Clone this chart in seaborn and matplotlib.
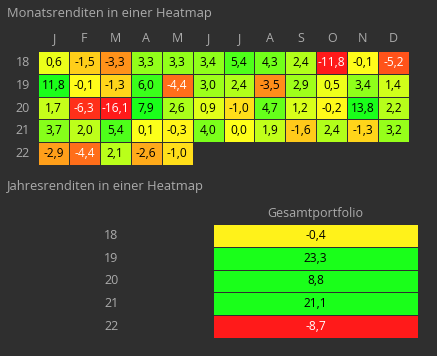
import numpy as np
import pandas as pd
import matplotlib
matplotlib.use("Agg")
import matplotlib.pyplot as plt
import seaborn as sns
from matplotlib.colors import LinearSegmentedColormap

months = ["J", "F", "M", "A", "M", "J", "J", "A", "S", "O", "N", "D"]
years = ["18", "19", "20", "21", "22"]
r18 = [0.6, -1.5, -3.3, 3.3, 3.3, 3.4, 5.4, 4.3, 2.4, -11.8, -0.1, -5.2]
r19 = [11.8, -0.1, -1.3, 6.0, -4.4, 3.0, 2.4, -3.5, 2.9, 0.5, 3.4, 1.4]
r20 = [1.7, -6.3, -16.1, 7.9, 2.6, 0.9, -1.0, 4.7, 1.2, -0.2, 13.8, 2.2]
r21 = [3.7, 2.0, 5.4, 0.1, -0.3, 4.0, 0.0, 1.9, -1.6, 2.4, -1.3, 3.2]
r22 = [-2.9, -4.4, 2.1, -2.6, -1.0, np.nan, np.nan, np.nan, np.nan, np.nan, np.nan, np.nan]
annual = [-0.4, 23.3, 8.8, 21.1, -8.7]
annual_label = "Gesamtportfolio"

BG = "#2f2f2f"
TXT = "#ababab"
cmap = LinearSegmentedColormap.from_list("ryg", ["#ff1a1a", "#ffff1a", "#1aff1a"])

plt.rcParams["font.family"] = ["Open Sans", "DejaVu Sans"]

monthly = pd.DataFrame([r18, r19, r20, r21, r22], index=years, columns=range(12))
yearly = pd.DataFrame({annual_label: annual}, index=years)

def fmt(v):
    return "" if np.isnan(v) else f"{v:.1f}".replace(".", ",")

fig = plt.figure(figsize=(4.37, 3.56), dpi=100, facecolor=BG)

ax1 = fig.add_axes([38/437, 1 - 165/356, 371/437, 114/356])
ax1.set_facecolor(BG)
lab1 = np.vectorize(fmt)(monthly.values)
sns.heatmap(monthly, ax=ax1, cmap=cmap, vmin=-7, vmax=7, center=0, cbar=False,
            annot=lab1, fmt="", linewidths=0.6, linecolor=BG,
            annot_kws={"fontsize": 8.6})
ax1.xaxis.tick_top()
ax1.set_xticklabels(months, color=TXT, fontsize=9)
ax1.set_yticklabels(years, color=TXT, fontsize=9, rotation=0)
ax1.tick_params(length=0, pad=4)
ax1.tick_params(axis="y", pad=6)
ax1.set_xlabel(""); ax1.set_ylabel("")

for t in ax1.texts:
    s = t.get_text()
    if s:
        v = float(s.replace(",", "."))
        t.set_color("white" if v < -4 else "black")

ax2 = fig.add_axes([213/437, 1 - 338/356, 205/437, 114/356])
ax2.set_facecolor(BG)
lab2 = np.vectorize(fmt)(yearly.values)
sns.heatmap(yearly, ax=ax2, cmap=cmap, vmin=-7, vmax=7, center=0, cbar=False,
            annot=lab2, fmt="", linewidths=0.6, linecolor=BG,
            annot_kws={"fontsize": 8.6})
ax2.xaxis.tick_top()
ax2.set_xticklabels([annual_label], color=TXT, fontsize=9)
ax2.set_yticklabels(years, color=TXT, fontsize=9, rotation=0)
ax2.tick_params(length=0, pad=3)
ax2.tick_params(axis="y", pad=68)
ax2.set_xlabel(""); ax2.set_ylabel("")
for t in ax2.texts:
    s = t.get_text()
    if s:
        v = float(s.replace(",", "."))
        t.set_color("white" if v < -4 else "black")

fig.text(7/437, 1 - 13/356, "Monatsrenditen in einer Heatmap", color=TXT,
         fontsize=9.3, va="center", ha="left")
fig.text(7/437, 1 - 186/356, "Jahresrenditen in einer Heatmap", color=TXT,
         fontsize=9.3, va="center", ha="left")

fig.savefig("out.png", dpi=100, facecolor=BG)
